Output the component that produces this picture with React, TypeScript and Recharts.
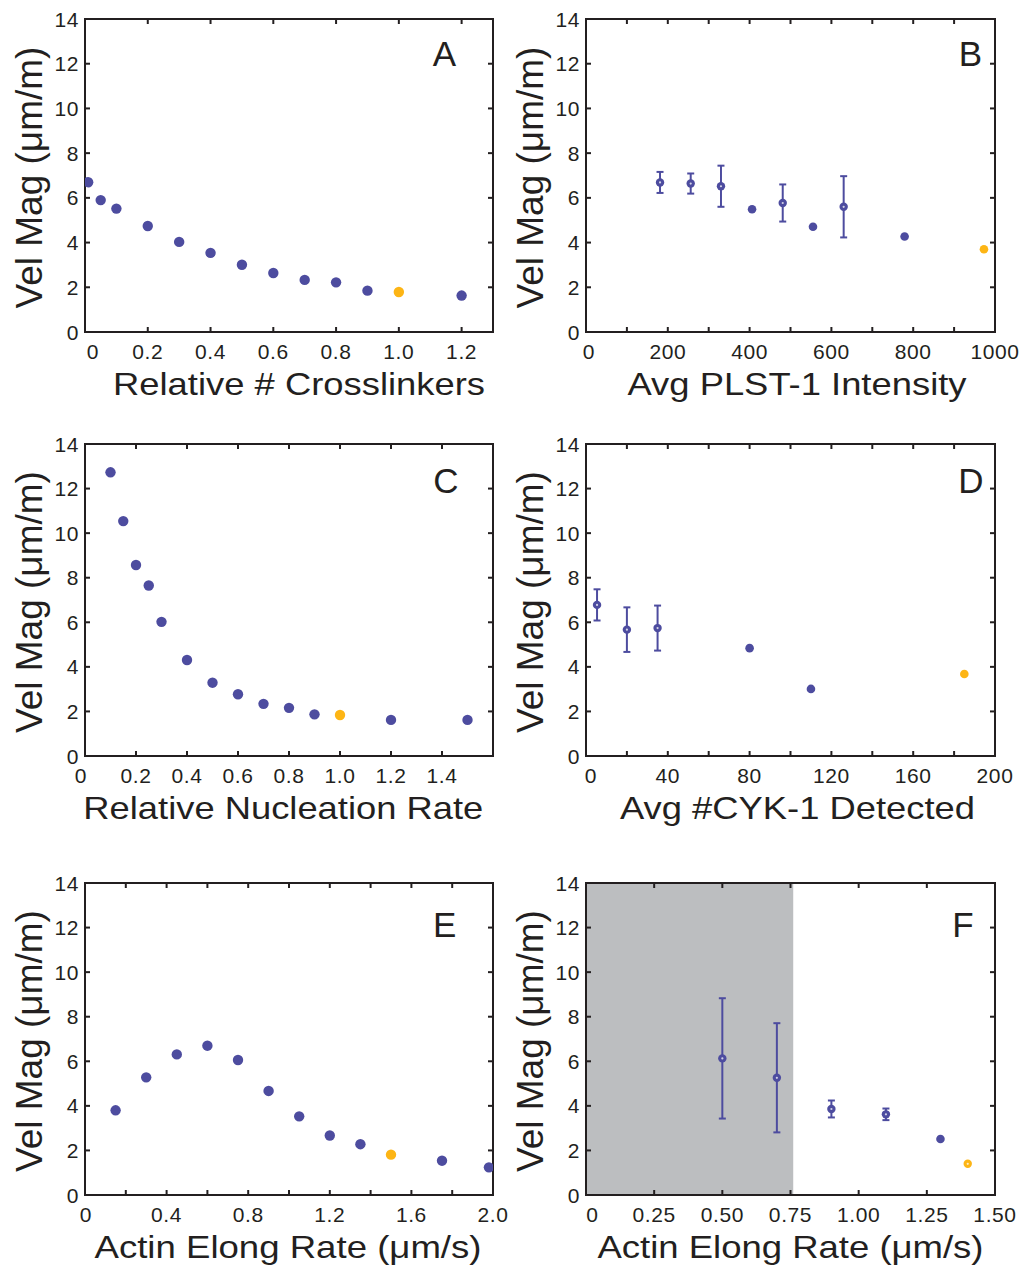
import React from 'react';
import { ScatterChart, Scatter, XAxis, YAxis, ReferenceArea, ErrorBar, Label } from 'recharts';

const INK = '#231f20';
const BLUE = '#4d4c9f';
const ORANGE = '#fdb515';
const SHADE = '#bcbec0';
const FONT = '"Liberation Sans", Arial, Helvetica, sans-serif';

const velTicks = [0, 2, 4, 6, 8, 10, 12, 14];

// A: relative number of crosslinkers
const aCrosslinkers = [0.01, 0.05, 0.1, 0.2, 0.3, 0.4, 0.5, 0.6, 0.7, 0.8, 0.9, 1.2];
const aVel = [6.7, 5.9, 5.52, 4.74, 4.03, 3.54, 3.01, 2.64, 2.33, 2.22, 1.85, 1.63];
const aRefX = [1.0];
const aRefY = [1.79];
const aTicks = [0, 0.2, 0.4, 0.6, 0.8, 1.0, 1.2];
const aTickLabels = ['0', '0.2', '0.4', '0.6', '0.8', '1.0', '1.2'];

// B: PLST-1 intensity
const bIntensity = [181, 256, 330, 406, 481, 555, 630, 779];
const bVel = [6.69, 6.64, 6.52, 5.49, 5.77, 4.71, 5.6, 4.27];
const bErr = [0.47, 0.45, 0.92, 0, 0.83, 0, 1.37, 0];
const bRefX = [973];
const bRefY = [3.7];
const bTicks = [0, 100, 200, 300, 400, 500, 600, 700, 800, 900, 1000];
const bTickLabels = ['0', '', '200', '', '400', '', '600', '', '800', '', '1000'];

// C: relative nucleation rate
const cNucleation = [0.1, 0.15, 0.2, 0.25, 0.3, 0.4, 0.5, 0.6, 0.7, 0.8, 0.9, 1.2, 1.5];
const cVel = [12.73, 10.54, 8.57, 7.65, 6.02, 4.31, 3.29, 2.77, 2.34, 2.16, 1.87, 1.62, 1.62];
const cRefX = [1.0];
const cRefY = [1.84];
const cTicks = [0, 0.2, 0.4, 0.6, 0.8, 1.0, 1.2, 1.4];
const cTickLabels = ['0', '0.2', '0.4', '0.6', '0.8', '1.0', '1.2', '1.4'];

// D: CYK-1 detected
const dCyk = [5.4, 20, 35, 80, 110];
const dVel = [6.78, 5.67, 5.74, 4.84, 3.01];
const dErr = [0.7, 1.0, 1.01, 0, 0];
const dRefX = [185];
const dRefY = [3.68];
const dTicks = [0, 20, 40, 60, 80, 100, 120, 140, 160, 180, 200];
const dTickLabels = ['0', '', '40', '', '80', '', '120', '', '160', '', '200'];

// E: actin elongation rate (simulation)
const eElong = [0.15, 0.3, 0.45, 0.6, 0.75, 0.9, 1.05, 1.2, 1.35, 1.75, 1.98];
const eVel = [3.8, 5.28, 6.31, 6.7, 6.06, 4.67, 3.53, 2.67, 2.28, 1.54, 1.24];
const eRefX = [1.5];
const eRefY = [1.81];
const eTicks = [0, 0.2, 0.4, 0.6, 0.8, 1.0, 1.2, 1.4, 1.6, 1.8, 2.0];
const eTickLabels = ['0', '', '0.4', '', '0.8', '', '1.2', '', '1.6', '', '2.0'];

// F: actin elongation rate (experiment)
const fElong = [0.5, 0.7, 0.9, 1.1, 1.3];
const fVel = [6.13, 5.26, 3.86, 3.62, 2.51];
const fErr = [2.7, 2.45, 0.38, 0.26, 0];
const fRefX = [1.4];
const fRefY = [1.4];
const fTicks = [0, 0.25, 0.5, 0.75, 1.0, 1.25, 1.5];
const fTickLabels = ['0', '0.25', '0.50', '0.75', '1.00', '1.25', '1.50'];
const fShadeEnd = 0.76;

type Pt = { x: number; y: number; err: number };

const rows = (xs: number[], ys: number[], errs?: number[]): Pt[] =>
  xs.map((x, i) => ({ x, y: ys[i], err: errs ? errs[i] : 0 }));

const ML = 85;
const MT = 19;
const MR = 32;
const MB = 80;

type PanelProps = {
  letter: string;
  letterX: number;
  letterY: number;
  left: number;
  top: number;
  plotW: number;
  plotH: number;
  xDomain: [number, number];
  xTicks: number[];
  xTickLabels: string[];
  zeroDx: number;
  xTitle: string;
  titleLen: number;
  titleDx: number;
  points: Pt[];
  refs: Pt[];
  dotR: number;
  refOpen?: boolean;
  shadeTo?: number;
};

const filledDot = (r: number, fill: string) => (p: any) => (
  <circle cx={p.cx} cy={p.cy} r={r} fill={fill} />
);

const openDot = (fill: string) => (p: any) => (
  <g>
    <circle cx={p.cx} cy={p.cy} r={4.2} fill={fill} />
    <circle cx={p.cx} cy={p.cy} r={1.1} fill="#ffffff" fillOpacity={0.75} />
  </g>
);

function Panel(props: PanelProps) {
  const { plotW, plotH, xDomain, xTicks, xTickLabels } = props;
  const W = ML + plotW + MR;
  const H = MT + plotH + MB;
  const plotBottom = MT + plotH;
  const plotRight = ML + plotW;

  const xTick = (p: any) => {
    const v = p.payload.value;
    const idx = xTicks.indexOf(v);
    const text = idx >= 0 ? xTickLabels[idx] : '';
    return (
      <g>
        <line x1={p.x} x2={p.x} y1={plotBottom} y2={plotBottom - 5} stroke={INK} strokeWidth={2} />
        <line x1={p.x} x2={p.x} y1={MT} y2={MT + 5} stroke={INK} strokeWidth={2} />
        {text && (
          <text
            x={p.x + (v === 0 ? props.zeroDx : 0)}
            y={plotBottom + 27}
            textAnchor="middle"
            fontSize={21}
            fontFamily={FONT}
            fill={INK}
            letterSpacing={0.6}
          >
            {text}
          </text>
        )}
      </g>
    );
  };

  const yTick = (p: any) => (
    <g>
      <line x1={ML} x2={ML + 5} y1={p.y} y2={p.y} stroke={INK} strokeWidth={2} />
      <line x1={plotRight - 5} x2={plotRight} y1={p.y} y2={p.y} stroke={INK} strokeWidth={2} />
      <text
        x={ML - 6}
        y={p.y + 7.5}
        textAnchor="end"
        fontSize={21}
        fontFamily={FONT}
        fill={INK}
        letterSpacing={0.6}
      >
        {p.payload.value}
      </text>
    </g>
  );

  const withErr = props.points.filter((d) => d.err > 0);
  const noErr = props.points.filter((d) => d.err === 0);

  return (
    <div style={{ position: 'absolute', left: props.left - ML, top: props.top - MT }}>
      <ScatterChart width={W} height={H} margin={{ top: MT, right: MR, bottom: 0, left: 0 }}>
        <XAxis
          type="number"
          dataKey="x"
          domain={xDomain}
          ticks={xTicks}
          interval={0}
          allowDataOverflow
          height={MB}
          axisLine={false}
          tickLine={false}
          tickSize={0}
          tick={xTick}
        >
          <Label
            content={() => (
              <text
                x={ML + plotW / 2 + props.titleDx}
                y={plotBottom + 63}
                textAnchor="middle"
                fontSize={32}
                fontFamily={FONT}
                fill={INK}
                textLength={props.titleLen}
                lengthAdjust="spacingAndGlyphs"
              >
                {props.xTitle}
              </text>
            )}
          />
        </XAxis>
        <YAxis
          type="number"
          dataKey="y"
          domain={[0, 14]}
          ticks={velTicks}
          interval={0}
          allowDataOverflow
          width={ML}
          axisLine={false}
          tickLine={false}
          tickSize={0}
          tick={yTick}
        >
          <Label
            content={() => {
              const bx = ML - 43;
              const cy = MT + plotH / 2 + 2;
              return (
                <text
                  x={bx}
                  y={cy}
                  transform={`rotate(-90, ${bx}, ${cy})`}
                  textAnchor="middle"
                  fontSize={37}
                  fontFamily={FONT}
                  fill={INK}
                >
                  Vel Mag (μm/m)
                </text>
              );
            }}
          />
          <Label
            content={() => (
              <text
                x={ML + props.letterX}
                y={MT + props.letterY}
                textAnchor="middle"
                fontSize={35}
                fontFamily={FONT}
                fill={INK}
              >
                {props.letter}
              </text>
            )}
          />
        </YAxis>
        {props.shadeTo !== undefined && (
          <ReferenceArea
            x1={xDomain[0]}
            x2={props.shadeTo}
            y1={0}
            y2={14}
            fill={SHADE}
            fillOpacity={1}
            stroke="none"
          />
        )}
        <ReferenceArea
          x1={xDomain[0]}
          x2={xDomain[1]}
          y1={0}
          y2={14}
          fill="none"
          stroke={INK}
          strokeWidth={2}
        />
        {withErr.length > 0 && (
          <Scatter data={withErr} isAnimationActive={false} shape={openDot(BLUE)}>
            <ErrorBar
              dataKey="err"
              direction="y"
              width={3.5}
              strokeWidth={2}
              stroke={BLUE}
              isAnimationActive={false}
            />
          </Scatter>
        )}
        <Scatter data={noErr} isAnimationActive={false} shape={filledDot(props.dotR, BLUE)} />
        <Scatter
          data={props.refs}
          isAnimationActive={false}
          shape={props.refOpen ? openDot(ORANGE) : filledDot(props.dotR, ORANGE)}
        />
      </ScatterChart>
    </div>
  );
}

export default function App() {
  return (
    <div
      style={{
        position: 'absolute',
        left: 0,
        top: 0,
        width: 1028,
        height: 1270,
        background: '#ffffff',
        overflow: 'hidden',
      }}
    >
      <Panel
        letter="A"
        letterX={359.5}
        letterY={46.7}
        left={85}
        top={19}
        plotW={408}
        plotH={313}
        xDomain={[0, 1.3]}
        xTicks={aTicks}
        xTickLabels={aTickLabels}
        zeroDx={8}
        xTitle="Relative # Crosslinkers"
        titleLen={372}
        titleDx={10}
        points={rows(aCrosslinkers, aVel)}
        refs={rows(aRefX, aRefY)}
        dotR={5.2}
      />
      <Panel
        letter="B"
        letterX={384.5}
        letterY={46.7}
        left={586}
        top={19}
        plotW={409}
        plotH={313}
        xDomain={[0, 1000]}
        xTicks={bTicks}
        xTickLabels={bTickLabels}
        zeroDx={3}
        xTitle="Avg PLST-1 Intensity"
        titleLen={339}
        titleDx={6.5}
        points={rows(bIntensity, bVel, bErr)}
        refs={rows(bRefX, bRefY)}
        dotR={4.3}
      />
      <Panel
        letter="C"
        letterX={361}
        letterY={49.3}
        left={85}
        top={444}
        plotW={408}
        plotH={312}
        xDomain={[0, 1.6]}
        xTicks={cTicks}
        xTickLabels={cTickLabels}
        zeroDx={-4}
        xTitle="Relative Nucleation Rate"
        titleLen={400}
        titleDx={-5.7}
        points={rows(cNucleation, cVel)}
        refs={rows(cRefX, cRefY)}
        dotR={5.2}
      />
      <Panel
        letter="D"
        letterX={384.8}
        letterY={49.3}
        left={586}
        top={444}
        plotW={409}
        plotH={312}
        xDomain={[0, 200]}
        xTicks={dTicks}
        xTickLabels={dTickLabels}
        zeroDx={5}
        xTitle="Avg #CYK-1 Detected"
        titleLen={355}
        titleDx={7}
        points={rows(dCyk, dVel, dErr)}
        refs={rows(dRefX, dRefY)}
        dotR={4.3}
      />
      <Panel
        letter="E"
        letterX={359.7}
        letterY={54.3}
        left={85}
        top={883}
        plotW={408}
        plotH={312}
        xDomain={[0, 2.0]}
        xTicks={eTicks}
        xTickLabels={eTickLabels}
        zeroDx={1}
        xTitle="Actin Elong Rate (μm/s)"
        titleLen={387}
        titleDx={-1}
        points={rows(eElong, eVel)}
        refs={rows(eRefX, eRefY)}
        dotR={5.2}
      />
      <Panel
        letter="F"
        letterX={377}
        letterY={54.3}
        left={586}
        top={883}
        plotW={409}
        plotH={312}
        xDomain={[0, 1.5]}
        xTicks={fTicks}
        xTickLabels={fTickLabels}
        zeroDx={6.5}
        xTitle="Actin Elong Rate (μm/s)"
        titleLen={386}
        titleDx={0}
        points={rows(fElong, fVel, fErr)}
        refs={rows(fRefX, fRefY)}
        dotR={4.3}
        refOpen
        shadeTo={fShadeEnd}
      />
    </div>
  );
}
